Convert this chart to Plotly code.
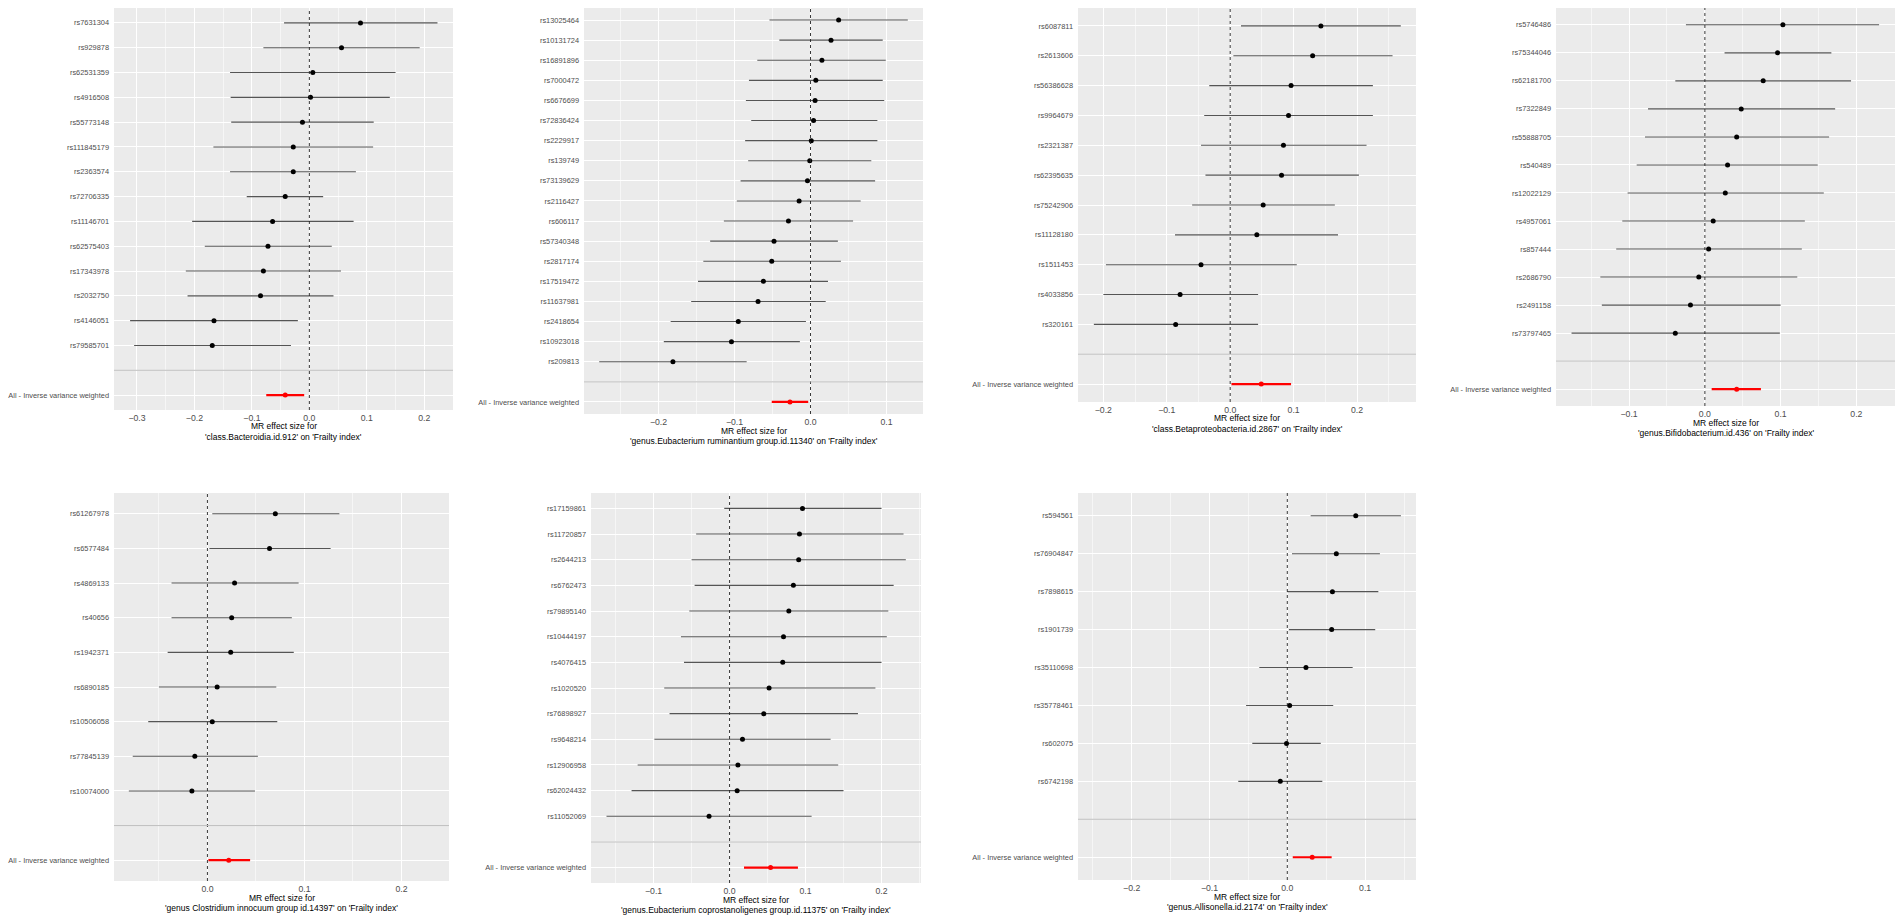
import plotly.graph_objects as go

IVW_LABEL = "All - Inverse variance weighted"

# ---------------- Panel 1 ----------------
p1_title = "'class.Bacteroidia.id.912' on 'Frailty index'"
p1_snps = ["rs7631304", "rs929878", "rs62531359", "rs4916508", "rs55773148", "rs111845179",
           "rs2363574", "rs72706335", "rs11146701", "rs62575403", "rs17343978", "rs2032750",
           "rs4146051", "rs79585701"]
p1_b = [0.089, 0.056, 0.006, 0.002, -0.012, -0.028, -0.028, -0.042, -0.064, -0.072, -0.080, -0.085, -0.166, -0.169]
p1_lo = [-0.044, -0.080, -0.138, -0.137, -0.136, -0.167, -0.138, -0.109, -0.204, -0.182, -0.215, -0.212, -0.312, -0.305]
p1_hi = [0.223, 0.192, 0.150, 0.140, 0.112, 0.111, 0.081, 0.024, 0.077, 0.039, 0.055, 0.042, -0.020, -0.032]
p1_ivw = [-0.042, -0.075, -0.009]

# ---------------- Panel 2 ----------------
p2_title = "'genus.Eubacterium ruminantium group.id.11340' on 'Frailty index'"
p2_snps = ["rs13025464", "rs10131724", "rs16891896", "rs7000472", "rs6676699", "rs72836424",
           "rs2229917", "rs139749", "rs73139629", "rs2116427", "rs606117", "rs57340348",
           "rs2817174", "rs17519472", "rs11637981", "rs2418654", "rs10923018", "rs209813"]
p2_b = [0.037, 0.027, 0.015, 0.007, 0.006, 0.004, 0.001, -0.001, -0.004, -0.015, -0.029, -0.048,
        -0.051, -0.062, -0.069, -0.095, -0.104, -0.181]
p2_lo = [-0.054, -0.041, -0.070, -0.081, -0.085, -0.078, -0.086, -0.082, -0.092, -0.097, -0.114, -0.132,
         -0.141, -0.148, -0.157, -0.184, -0.193, -0.278]
p2_hi = [0.128, 0.095, 0.099, 0.095, 0.097, 0.088, 0.088, 0.080, 0.085, 0.066, 0.056, 0.036,
         0.040, 0.023, 0.020, -0.006, -0.014, -0.084]
p2_ivw = [-0.027, -0.051, -0.003]

# ---------------- Panel 3 ----------------
p3_title = "'class.Betaproteobacteria.id.2867' on 'Frailty index'"
p3_snps = ["rs6087811", "rs2613606", "rs56386628", "rs9964679", "rs2321387", "rs62395635",
           "rs75242906", "rs11128180", "rs1511453", "rs4033856", "rs320161"]
p3_b = [0.143, 0.130, 0.096, 0.092, 0.084, 0.081, 0.052, 0.042, -0.046, -0.079, -0.086]
p3_lo = [0.017, 0.005, -0.033, -0.041, -0.046, -0.039, -0.060, -0.087, -0.196, -0.200, -0.215]
p3_hi = [0.269, 0.256, 0.225, 0.225, 0.215, 0.203, 0.165, 0.170, 0.105, 0.044, 0.044]
p3_ivw = [0.049, 0.002, 0.096]

# ---------------- Panel 4 ----------------
p4_title = "'genus.Bifidobacterium.id.436' on 'Frailty index'"
p4_snps = ["rs5746486", "rs75344046", "rs62181700", "rs7322849", "rs55888705", "rs540489",
           "rs12022129", "rs4957061", "rs857444", "rs2686790", "rs2491158", "rs73797465"]
p4_b = [0.103, 0.096, 0.077, 0.048, 0.042, 0.030, 0.027, 0.011, 0.005, -0.008, -0.019, -0.039]
p4_lo = [-0.025, 0.026, -0.039, -0.075, -0.079, -0.090, -0.102, -0.109, -0.117, -0.138, -0.136, -0.176]
p4_hi = [0.230, 0.167, 0.193, 0.172, 0.164, 0.149, 0.157, 0.132, 0.128, 0.122, 0.100, 0.099]
p4_ivw = [0.042, 0.009, 0.074]

# ---------------- Panel 5 ----------------
p5_title = "'genus Clostridium innocuum group id.14397' on 'Frailty index'"
p5_snps = ["rs61267978", "rs6577484", "rs4869133", "rs40656", "rs1942371", "rs6890185",
           "rs10506058", "rs77845139", "rs10074000"]
p5_b = [0.070, 0.064, 0.028, 0.025, 0.024, 0.010, 0.005, -0.013, -0.016]
p5_lo = [0.005, 0.002, -0.037, -0.037, -0.041, -0.050, -0.061, -0.077, -0.081]
p5_hi = [0.136, 0.127, 0.094, 0.087, 0.089, 0.071, 0.072, 0.052, 0.049]
p5_ivw = [0.022, 0.001, 0.044]

# ---------------- Panel 6 ----------------
p6_title = "'genus.Eubacterium coprostanoligenes group.id.11375' on 'Frailty index'"
p6_snps = ["rs17159861", "rs11720857", "rs2644213", "rs6762473", "rs79895140", "rs10444197",
           "rs4076415", "rs1020520", "rs76898927", "rs9648214", "rs12906958", "rs62024432", "rs11052069"]
p6_b = [0.096, 0.092, 0.091, 0.084, 0.078, 0.071, 0.070, 0.052, 0.045, 0.017, 0.011, 0.010, -0.027]
p6_lo = [-0.007, -0.044, -0.050, -0.046, -0.053, -0.064, -0.060, -0.086, -0.079, -0.099, -0.121, -0.129, -0.162]
p6_hi = [0.200, 0.229, 0.232, 0.216, 0.209, 0.207, 0.200, 0.192, 0.169, 0.133, 0.143, 0.150, 0.108]
p6_ivw = [0.054, 0.019, 0.090]

# ---------------- Panel 7 ----------------
p7_title = "'genus.Allisonella.id.2174' on 'Frailty index'"
p7_snps = ["rs594561", "rs76904847", "rs7898615", "rs1901739", "rs35110698", "rs35778461",
           "rs602075", "rs6742198"]
p7_b = [0.088, 0.063, 0.058, 0.057, 0.024, 0.003, -0.001, -0.009]
p7_lo = [0.030, 0.006, 0.000, 0.002, -0.036, -0.053, -0.045, -0.063]
p7_hi = [0.146, 0.119, 0.117, 0.113, 0.084, 0.059, 0.043, 0.045]
p7_ivw = [0.032, 0.007, 0.057]

# layout geometry: (left, right, top, bottom) in px, x range
W, H = 1902, 919
geom = [
    (114, 453, 8, 410, [-0.340, 0.250]),
    (584, 923, 8, 414, [-0.298, 0.148]),
    (1078, 1416, 8, 402, [-0.240, 0.293]),
    (1556, 1895, 8, 406, [-0.1965, 0.251]),
    (114, 449, 493, 881, [-0.0963, 0.249]),
    (591, 921, 493, 883, [-0.1824, 0.252]),
    (1078, 1416, 493, 880, [-0.269, 0.1654]),
]
panels = [
    (p1_title, p1_snps, p1_b, p1_lo, p1_hi, p1_ivw),
    (p2_title, p2_snps, p2_b, p2_lo, p2_hi, p2_ivw),
    (p3_title, p3_snps, p3_b, p3_lo, p3_hi, p3_ivw),
    (p4_title, p4_snps, p4_b, p4_lo, p4_hi, p4_ivw),
    (p5_title, p5_snps, p5_b, p5_lo, p5_hi, p5_ivw),
    (p6_title, p6_snps, p6_b, p6_lo, p6_hi, p6_ivw),
    (p7_title, p7_snps, p7_b, p7_lo, p7_hi, p7_ivw),
]

FONT = "Liberation Sans, Arial, sans-serif"
fig = go.Figure()
layout = dict(width=W, height=H, margin=dict(l=0, r=0, t=0, b=0), autosize=False,
              paper_bgcolor="white", plot_bgcolor="#EBEBEB", showlegend=False,
              font=dict(family=FONT), shapes=[], annotations=[])

for i, ((title, snps, b, lo, hi, ivw), (l, r, t, bt, xr)) in enumerate(zip(panels, geom), start=1):
    sfx = "" if i == 1 else str(i)
    xa, ya = "x" + sfx, "y" + sfx
    n = len(snps)
    ys = list(range(n))
    fig.add_trace(go.Scatter(
        x=b, y=ys, xaxis=xa, yaxis=ya, mode="markers",
        marker=dict(color="black", size=5),
        error_x=dict(type="data", symmetric=False,
                     array=[h - v for h, v in zip(hi, b)],
                     arrayminus=[v - q for v, q in zip(b, lo)],
                     width=0, thickness=1.1, color="#555555"),
        hoverinfo="x+y"))
    fig.add_trace(go.Scatter(
        x=[ivw[0]], y=[n + 1], xaxis=xa, yaxis=ya, mode="markers",
        marker=dict(color="#FF0000", size=5),
        error_x=dict(type="data", symmetric=False, array=[ivw[2] - ivw[0]],
                     arrayminus=[ivw[0] - ivw[1]], width=0, thickness=2.2, color="#FF0000"),
        hoverinfo="x"))
    layout["xaxis" + sfx] = dict(
        domain=[l / W, r / W], anchor=ya, range=xr, tick0=0, dtick=0.1, tickformat=".1f",
        showgrid=True, gridcolor="white", gridwidth=1.1, zeroline=False, showline=False,
        ticks="", ticklabelstandoff=1,
        tickfont=dict(size=8.7, color="#4D4D4D", family=FONT),
        minor=dict(tick0=0.05, dtick=0.1, showgrid=True, gridcolor="#F6F6F6", gridwidth=0.6),
        fixedrange=True)
    layout["yaxis" + sfx] = dict(
        domain=[1 - bt / H, 1 - t / H], anchor=xa, range=[n + 1.6, -0.6],
        tickmode="array", tickvals=ys + [n, n + 1], ticktext=snps + ["", IVW_LABEL],
        showgrid=True, gridcolor="white", gridwidth=1.1, zeroline=False, showline=False,
        ticks="", ticklabelstandoff=4,
        tickfont=dict(size=7.4, color="#4D4D4D", family=FONT), fixedrange=True)
    layout["shapes"].append(dict(type="line", xref=xa, yref=ya + " domain", x0=0, x1=0, y0=0, y1=1,
                                 line=dict(color="#222222", width=0.9, dash="dot"), layer="above"))
    layout["shapes"].append(dict(type="line", xref=xa + " domain", yref=ya, x0=0, x1=1, y0=n, y1=n,
                                 line=dict(color="#BEBEBE", width=1), layer="above"))
    cx = (l + r) / 2 / W
    layout["annotations"].append(dict(text="MR effect size for", xref="paper", yref="paper",
                                      x=cx, y=1 - (bt + 16.5) / H, xanchor="center", yanchor="middle",
                                      showarrow=False, font=dict(size=8.5, color="black", family=FONT)))
    layout["annotations"].append(dict(text=title, xref="paper", yref="paper",
                                      x=cx, y=1 - (bt + 26.5) / H, xanchor="center", yanchor="middle",
                                      showarrow=False, font=dict(size=8.5, color="black", family=FONT)))

fig.update_layout(**layout)
fig.write_html("out.html", config={"displayModeBar": False},
               post_script="document.body.style.margin='0';")
